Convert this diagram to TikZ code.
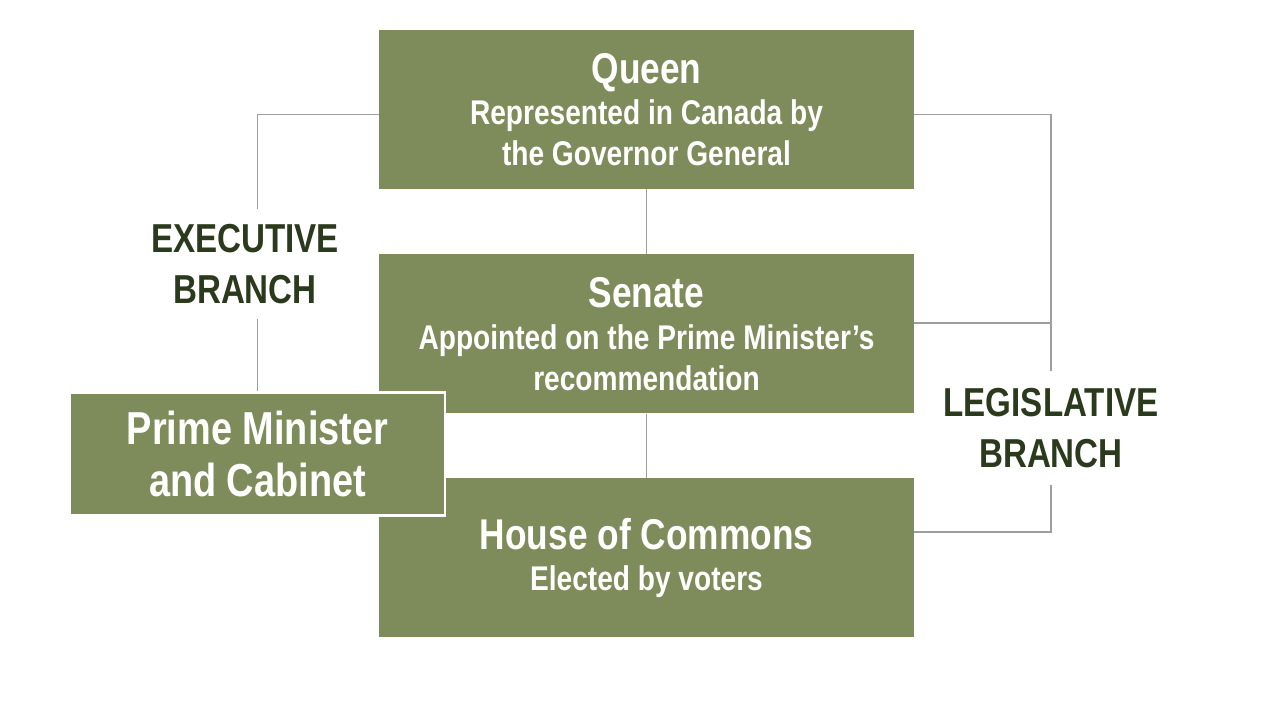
\documentclass[tikz,border=0pt]{standalone}
\usepackage{fontspec}
\newfontfamily\condfont[FakeStretch=0.82]{Liberation Sans}
\usetikzlibrary{calc}

\definecolor{boxgreen}{HTML}{7E8B5A}
\definecolor{labelgreen}{HTML}{2B3A1C}
\definecolor{linegray}{HTML}{9E9E9E}

\tikzset{
  govbox/.style={fill=boxgreen, text=white, align=center,
    minimum width=10.7cm, minimum height=3.18cm, inner sep=0pt,
    font=\condfont\bfseries\fontsize{19.5}{23.3}\selectfont},
  branchlabel/.style={text=labelgreen, align=center, inner sep=0.3cm,
    font=\condfont\bfseries\fontsize{23}{29}\selectfont},
  conn/.style={draw=linegray, line width=1.1pt}
}

\newcommand{\boxtitle}[1]{{\fontsize{24.5}{24}\selectfont #1}}

\begin{document}
\begin{tikzpicture}
  \useasboundingbox (0,0) rectangle (25.6,14.4);

  % the three boxes in the middle column
  \node[govbox] (queen) at (12.93,12.21)
    {\boxtitle{Queen}\\[0pt] Represented in Canada by\\ the Governor General};
  \node[govbox] (senate) at (12.93,7.72)
    {\boxtitle{Senate}\\[1pt] Appointed on the Prime Minister’s\\ recommendation};
  \node[govbox] (house) at (12.93,3.24)
    {\boxtitle{House of Commons}\\[0pt] Elected by voters};

  % prime minister sits over the senate and the house
  \node[govbox, draw=white, line width=1.7pt, minimum width=7.5cm, minimum height=2.46cm,
    font=\condfont\bfseries\fontsize{26.3}{30}\selectfont] (pm) at (5.15,5.32)
    {Prime Minister\\and Cabinet};

  % branch labels
  \node[branchlabel] (exec) at (4.9,9.12) {EXECUTIVE\\BRANCH};
  \node[branchlabel, inner ysep=0.34cm] (legis) at (21.02,5.84) {LEGISLATIVE\\BRANCH};

  % connectors
  \draw[conn] (queen.south) -- (senate.north);
  \draw[conn] (senate.south) -- (house.north);
  \draw[conn] ([yshift=-1mm]queen.west) -| (pm.north |- exec.north);
  \draw[conn] (pm.north |- exec.south) -- (pm.north);
  \draw[conn] ([yshift=-1mm]queen.east) -| (legis.north);
  \draw[conn] ([yshift=2.2mm]senate.east) -- ([yshift=2.2mm]senate.east -| legis.north);
  \draw[conn] (legis.south) |- ([yshift=5.2mm]house.east);
\end{tikzpicture}
\end{document}
